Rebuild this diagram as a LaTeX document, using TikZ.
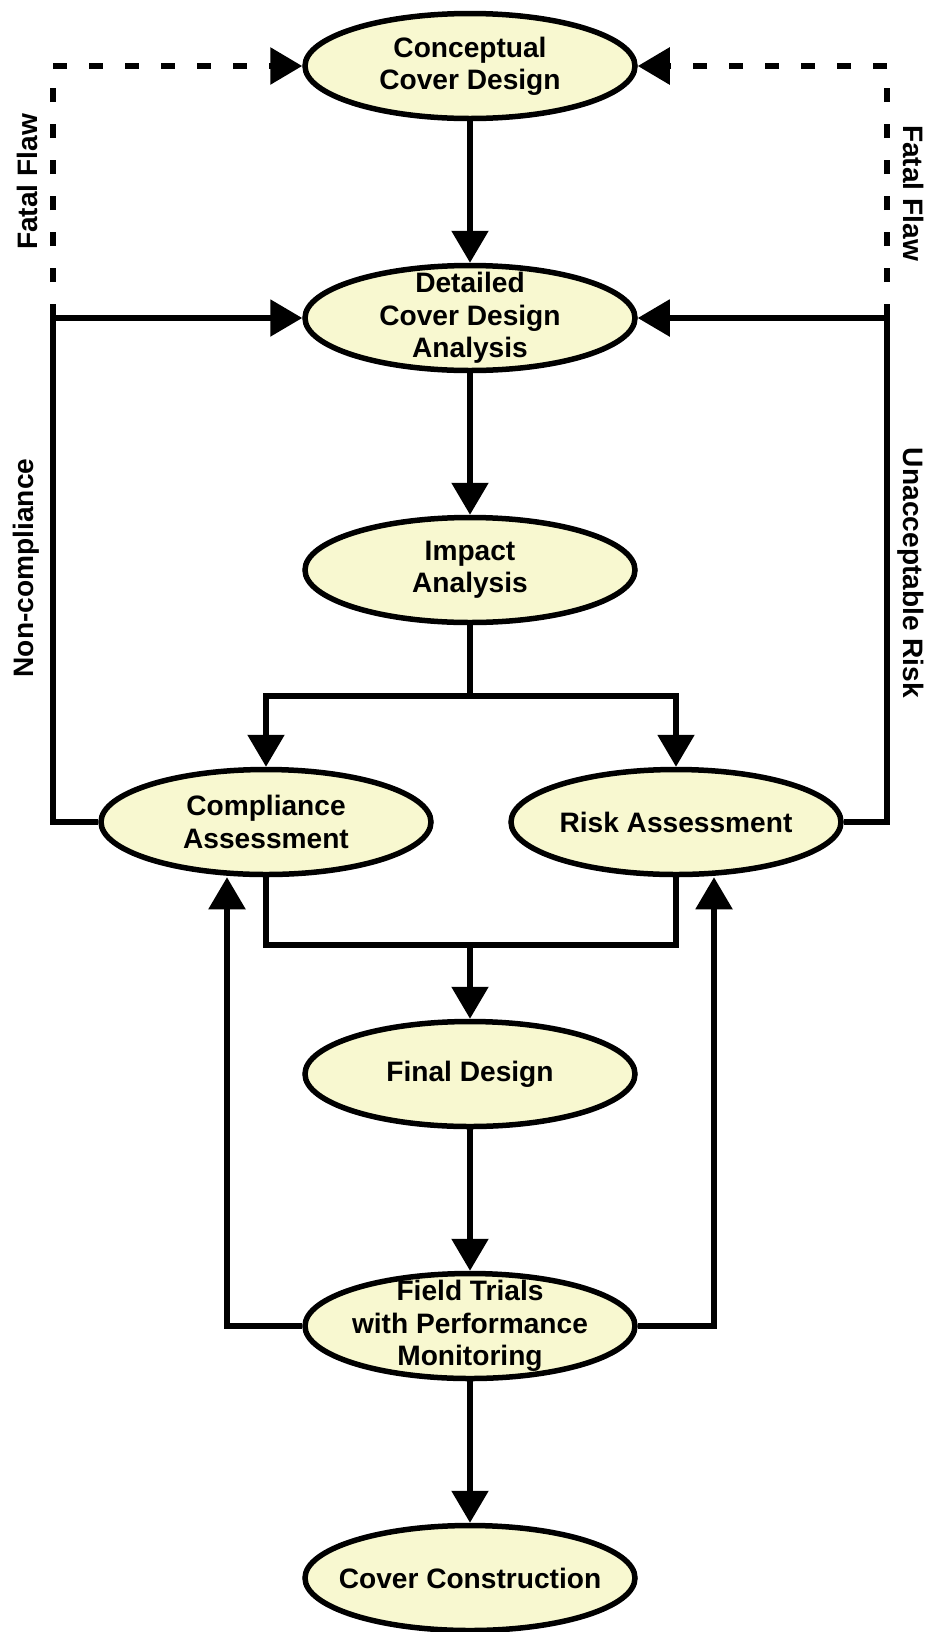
\documentclass[tikz,border=0pt]{standalone}
\usepackage{fontspec}
\setmainfont{Liberation Sans}
\usetikzlibrary{shapes.geometric,arrows.meta}
\definecolor{stagefill}{RGB}{248,248,208}

\begin{document}
\begin{tikzpicture}[
  stage/.style={ellipse, draw, line width=0.11cm, fill=stagefill, minimum width=6.6cm, minimum height=2.1cm, inner sep=0pt},
  stagetext/.style={align=center, font=\fontsize{16}{18.4}\selectfont\bfseries, inner sep=0pt},
  flow/.style={line width=0.11cm, -{Triangle[length=0.64cm,width=0.72cm]}},
  joinline/.style={line width=0.11cm},
  flaw/.style={line width=0.12cm, dash pattern=on 0.28cm off 0.44cm, -{Triangle[length=0.64cm,width=0.72cm]}},
  sidetext/.style={font=\fontsize{16}{18.4}\selectfont\bfseries, inner sep=0pt, anchor=base}
]
\useasboundingbox (0,0) rectangle (18.58,-32.64);

\node[stage] (concept) at (9.4,-1.32) {};
\node[stagetext] (concepttext) at (concept) {Conceptual\\Cover Design};

\node[stage] (detailed) at (9.4,-6.36) {};
\node[stagetext] (detailedtext) at (detailed) {Detailed\\Cover Design\\Analysis};

\node[stage] (impact) at (9.4,-11.4) {};
\node[stagetext] (impacttext) at (impact) {Impact\\Analysis};

\node[stage] (compliance) at (5.32,-16.44) {};
\node[stagetext] (compliancetext) at (compliance) {Compliance\\Assessment};

\node[stage] (risk) at (13.52,-16.44) {};
\node[stagetext] (risktext) at (risk) {Risk Assessment};

\node[stage] (final) at (9.4,-21.48) {};
\node[stagetext] (finaltext) at (final) {Final Design};

\node[stage] (field) at (9.4,-26.52) {};
\node[stagetext] (fieldtext) at (field) {Field Trials\\with Performance\\Monitoring};

\node[stage] (cover) at (9.4,-31.56) {};
\node[stagetext] (covertext) at (cover) {Cover Construction};

\coordinate (lbend) at (1.06,-6.36);
\coordinate (rbend) at (17.74,-6.36);
\coordinate (split) at (9.4,-13.92);
\coordinate (merge) at (9.4,-18.9);

\draw[flow] (concept) -- (detailed);
\draw[flow] (detailed) -- (impact);

\draw[flaw] (lbend) |- (concept.west);
\draw[flaw] (rbend) |- (concept.east);

\draw[flow] (compliance.west) -| (lbend) -- (detailed.west);
\draw[flow] (risk.east) -| (rbend) -- (detailed.east);

\draw[flow] (impact.south) -- (split) -| (compliance.north);
\draw[flow] (split) -| (risk.north);

\draw[joinline] (risk.south) |- (merge);
\draw[flow] (compliance.south) |- (merge) -- (final.north);

\draw[flow] (final) -- (field);
\draw[flow] (field) -- (cover);

\draw[flow] (field.west) -| ([xshift=-0.78cm]compliance.south);
\draw[flow] (field.east) -| ([xshift=0.76cm]risk.south);

\node[sidetext, rotate=90] (flawleft) at (0.74,-3.64) {Fatal Flaw};
\node[sidetext, rotate=-90] (flawright) at (18.06,-3.86) {Fatal Flaw};
\node[sidetext, rotate=90] (noncomp) at (0.66,-11.36) {Non-compliance};
\node[sidetext, rotate=-90] (unrisk) at (18.06,-11.46) {Unacceptable Risk};

\end{tikzpicture}
\end{document}
